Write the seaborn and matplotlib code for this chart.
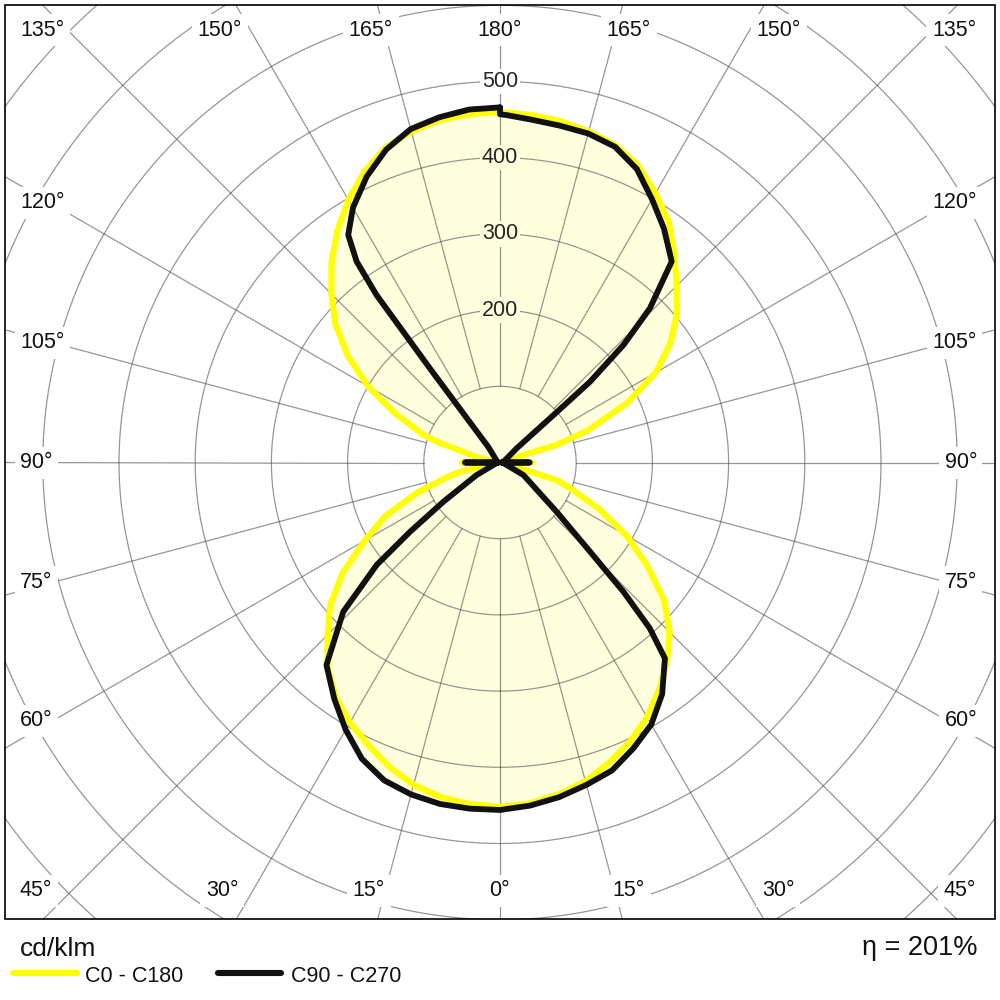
import numpy as np
import pandas as pd
import matplotlib.pyplot as plt
import seaborn as sns
from matplotlib.patches import Rectangle
from matplotlib.lines import Line2D

sns.set_theme(style='white')
plt.rcParams['font.family'] = ['Liberation Sans', 'DejaVu Sans']

# ------------------------------------------------------------
# Luminous intensity (cd/klm) vs gamma angle
# right half of the picture = C0 / C90, left half = C180 / C270
# ------------------------------------------------------------
c0_gamma = [0, 5, 10, 15, 20, 25, 30, 35, 40, 45, 50, 55, 60, 65, 70, 72.8, 73.8, 82, 90, 98,
            107.8, 107.2, 110, 115, 120, 125, 130, 135, 140, 145, 150, 155, 160, 165, 170, 175, 180]
c0_cd = [452, 449, 442, 433, 419, 404, 386, 364, 341, 315, 281, 236, 192, 143, 98, 78, 27, 4, 42, 4,
         32, 78, 122, 184, 236, 273, 303, 328, 356, 386, 408, 430, 443, 450, 455, 458, 460]

c180_gamma = [0, 5, 10, 15, 20, 25, 30, 35, 40, 45, 50, 55, 60, 65, 70, 75, 77, 82, 90, 98,
              103, 108.2, 110, 115, 120, 125, 130, 135, 140, 145, 150, 155, 160, 165, 170, 175, 180]
c180_cd = [452, 450, 446, 438, 425, 409, 394, 376, 352, 320, 291, 252, 205, 166, 116, 70, 54, 6, 50, 5,
           30, 87, 108, 151, 200, 244, 282, 313, 344, 372, 398, 421, 440, 450, 456, 459, 460]

c90_gamma = [0, 5, 10, 15, 20, 25, 30, 35, 40.1, 42.1, 43.7, 45.3, 49.0, 61.8, 75, 85, 90, 95,
             110, 130.4, 131.5, 131.9, 133.6, 135.8, 139.5, 145, 150, 155, 160, 165, 170, 175, 178.9, 180]
c90_cd = [456, 452, 446, 438, 430, 414, 397, 371, 336, 293, 234, 166, 98, 35, 6, 2, 39, 2,
          6, 29, 88, 159, 224, 282, 347, 375, 399, 425, 441, 447, 449, 452, 456, 457]

c270_gamma = [0, 5, 10, 15, 20, 25, 30, 35, 40.6, 46.4, 50.3, 52.4, 55.3, 61.8, 75, 85, 90, 95,
              110, 143.0, 143.3, 143.6, 144.5, 146.3, 150, 155, 160, 165, 170, 175, 180]
c270_cd = [456, 456, 455, 451, 444, 429, 405, 379, 350, 284, 210, 149, 90, 35, 6, 2, 46, 2,
           4, 25, 150, 273, 324, 359, 386, 414, 437, 453, 460, 465, 466]

ring_values = [100, 200, 300, 400, 500, 600, 700, 800, 900]
ring_labels = [200, 300, 400, 500]
spoke_angles = list(range(0, 360, 15))

top_labels = ['135°', '150°', '165°', '180°', '165°', '150°', '135°']
bottom_labels = ['45°', '30°', '15°', '0°', '15°', '30°', '45°']
side_labels = ['120°', '105°', '90°', '75°', '60°']

FILL = '#FFFFDD'
GRID = '#505050'
YELLOW = '#FFFF00'
BLACK = '#111111'


def plane_loop(g_left, v_left, g_right, v_right):
    # left half at -gamma (top -> bottom), right half at +gamma (bottom -> top), closed
    th = np.concatenate([-np.array(g_left)[::-1], np.array(g_right), [-g_left[-1]]])
    rr = np.concatenate([np.array(v_left)[::-1], np.array(v_right), [v_left[-1]]])
    return pd.DataFrame({'theta': np.radians(th), 'cd': rr})


df_c0 = plane_loop(c180_gamma, c180_cd, c0_gamma, c0_cd)
df_c90 = plane_loop(c270_gamma, c270_cd, c90_gamma, c90_cd)

fig = plt.figure(figsize=(10, 10), dpi=100)
# polar axes centred at (500, 462.5) px, 1000 cd/klm = 762 px
ax = fig.add_axes([-0.262, -0.2245, 1.524, 1.524], projection='polar')
ax.set_theta_zero_location('S')
ax.set_theta_direction(1)
ax.grid(False)
ax.spines['polar'].set_visible(False)
ax.set_facecolor('white')

# union of both light distributions
for d in (df_c0, df_c90):
    ax.fill(d['theta'], d['cd'], color=FILL, lw=0, zorder=1)

# grid: rings and spokes (spokes start at the 100 ring)
th_ring = np.linspace(0, 2 * np.pi, 721)
for rv in ring_values:
    ax.plot(th_ring, np.full_like(th_ring, rv), color=GRID, lw=0.9, alpha=0.6, zorder=2)
for a in spoke_angles:
    ax.plot([np.radians(a)] * 2, [100, 1000], color=GRID, lw=0.9, alpha=0.6, zorder=2)

sns.lineplot(data=df_c0, x='theta', y='cd', sort=False, estimator=None,
             color=YELLOW, linewidth=4.4, zorder=3, ax=ax)
sns.lineplot(data=df_c90, x='theta', y='cd', sort=False, estimator=None,
             color=BLACK, linewidth=4.2, zorder=4, ax=ax)

for rv in ring_labels:
    bg = 'white' if rv == 500 else FILL
    ax.text(np.pi, rv, str(rv), ha='center', va='center', fontsize=15.5, zorder=6,
            bbox=dict(boxstyle='square,pad=0.1', fc=bg, ec='none'))

ax.set_xticks([])
ax.set_yticks([])
ax.set_xlabel('')
ax.set_ylabel('')
ax.set_ylim(0, 1000)

# mask everything outside the diagram frame
for rect in [(0, 0, 1, 0.081), (0, 0.995, 1, 0.005), (0, 0, 0.005, 1), (0.995, 0, 0.005, 1)]:
    fig.add_artist(Rectangle(rect[:2], rect[2], rect[3], transform=fig.transFigure,
                             fc='white', ec='none', zorder=1))
fig.add_artist(Rectangle((0.005, 0.081), 0.99, 0.914, transform=fig.transFigure,
                         fill=False, ec='black', lw=1.2, zorder=2))

lab_kw = dict(fontsize=15.5, va='center', color='#111111',
              bbox=dict(boxstyle='square,pad=0.25', fc='white', ec='none'))
top_x = [0.020, 0.220, 0.371, 0.500, 0.629, 0.779, 0.976]
bot_x = [0.020, 0.222, 0.369, 0.499, 0.629, 0.778, 0.976]
for i, (t, b) in enumerate(zip(top_labels, bottom_labels)):
    ha = 'left' if i == 0 else ('right' if i == 6 else 'center')
    fig.text(top_x[i], 0.970, t, ha=ha, **lab_kw)
    fig.text(bot_x[i], 0.109, b, ha=ha, **lab_kw)
side_y = [0.797, 0.657, 0.537, 0.418, 0.279]
for s, y in zip(side_labels, side_y):
    fig.text(0.020, y, s, ha='left', **lab_kw)
    fig.text(0.977, y, s, ha='right', **lab_kw)

# legend below the frame
fig.text(0.020, 0.051, 'cd/klm', ha='left', va='center', fontsize=19, color='#111111')
fig.text(0.978, 0.052, 'η = 201%', ha='right', va='center', fontsize=19.5, color='#111111')
fig.add_artist(Line2D([0.013, 0.077], [0.027, 0.027], transform=fig.transFigure,
                      color=YELLOW, lw=4.4, zorder=3))
fig.add_artist(Line2D([0.218, 0.281], [0.027, 0.027], transform=fig.transFigure,
                      color=BLACK, lw=4.4, zorder=3))
fig.text(0.085, 0.024, 'C0 - C180', ha='left', va='center', fontsize=15.5, color='#111111')
fig.text(0.291, 0.024, 'C90 - C270', ha='left', va='center', fontsize=15.5, color='#111111')

fig.savefig('out.png', dpi=100, facecolor='white')
